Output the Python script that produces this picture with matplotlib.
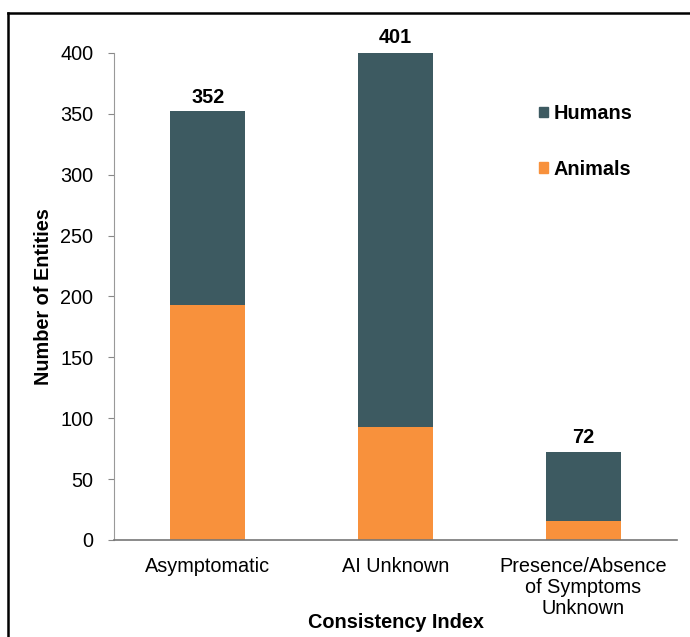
import numpy as np
import matplotlib
matplotlib.use('Agg')
import matplotlib.pyplot as plt
from matplotlib.patches import Patch
from matplotlib.lines import Line2D

plt.rcParams['font.family'] = ['Liberation Sans', 'DejaVu Sans']

categories = ['Asymptomatic', 'AI Unknown', 'Presence/Absence\nof Symptoms\nUnknown']
animals = [193, 93, 16]
humans = [159, 308, 56]
totals = [352, 401, 72]

c_humans = '#3d5a61'
c_animals = '#f8913c'
fs = 14.3

fig = plt.figure(figsize=(6.9, 6.37), dpi=100)
ax = fig.add_axes([0.1652, 0.1523, 0.816, 0.7645])

x = np.arange(len(categories))
ax.bar(x, animals, width=0.4, color=c_animals, label='Animals')
ax.bar(x, humans, width=0.4, bottom=animals, color=c_humans, label='Humans')

# totals above bars
for xi, t in zip(x, totals):
    ax.annotate(str(t), (xi, t), xytext=(0, 3.5), textcoords='offset points',
                ha='center', va='bottom', fontsize=fs, fontweight='bold',
                annotation_clip=False)

ax.set_xlim(-0.5, 2.5)
ax.set_ylim(0, 400)
ax.set_yticks(np.arange(0, 401, 50))
ax.set_xticks(x)
ax.set_xticklabels(categories, fontsize=fs, linespacing=1.15)
ax.tick_params(axis='x', length=0, pad=12)
ax.tick_params(axis='y', length=4, color='#888888', labelsize=fs, pad=11)

for s in ['top', 'right']:
    ax.spines[s].set_visible(False)
ax.spines['left'].set_color('#999999')
ax.spines['bottom'].set_color('#777777')
ax.spines['bottom'].set_linewidth(1.2)

ax.set_ylabel('Number of Entities', fontsize=fs, fontweight='bold', labelpad=5)
ax.set_xlabel('Consistency Index', fontsize=fs, fontweight='bold', labelpad=-4)

handles = [Patch(color=c_humans, label='Humans'), Patch(color=c_animals, label='Animals')]
leg = ax.legend(handles=handles, loc='upper left', bbox_to_anchor=(529 / 690, 1 - 94 / 637),
                bbox_transform=fig.transFigure, frameon=False, handlelength=0.45,
                handleheight=0.45, handletextpad=0.3, labelspacing=1.85, borderpad=0,
                prop={'size': fs, 'weight': 'bold'})

# frame around the chart (top and left edges visible)
yt = 1 - 13 / 637
xl = 8 / 690
fig.add_artist(Line2D([xl, 1.01], [yt, yt], transform=fig.transFigure, color='black', lw=1.8))
fig.add_artist(Line2D([xl, xl], [-0.01, yt], transform=fig.transFigure, color='black', lw=1.8))

fig.savefig('out.png', dpi=100)
